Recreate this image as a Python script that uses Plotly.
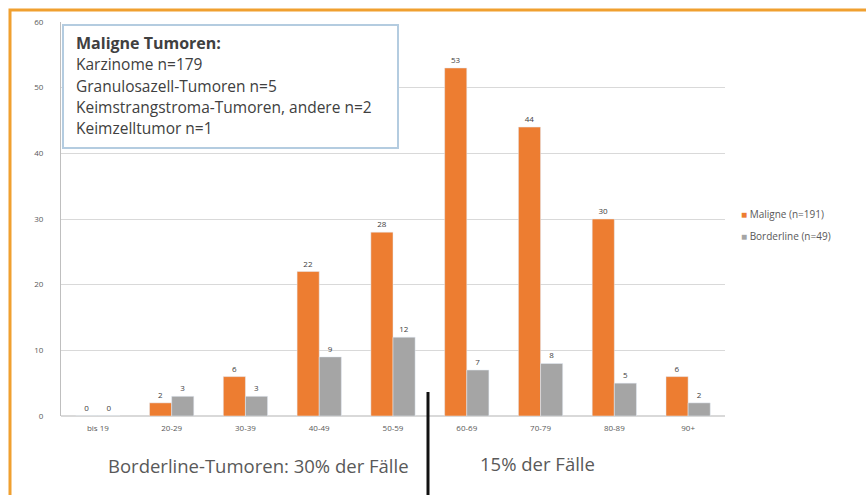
import plotly.graph_objects as go

categories = ["bis 19", "20-29", "30-39", "40-49", "50-59", "60-69", "70-79", "80-89", "90+"]
maligne = [0, 2, 6, 22, 28, 53, 44, 30, 6]
borderline = [0, 3, 3, 9, 12, 7, 8, 5, 2]
series_names = ["Maligne (n=191)", "Borderline (n=49)"]
box_title = "Maligne Tumoren:"
box_lines = ["Karzinome n=179", "Granulosazell-Tumoren n=5",
             "Keimstrangstroma-Tumoren, andere n=2", "Keimzelltumor n=1"]
bottom_left = "Borderline-Tumoren: 30% der Fälle"
bottom_right = "15% der Fälle"
y_ticks = [0, 10, 20, 30, 40, 50, 60]

W, H = 866, 495
L, R, T, B = 61, 141, 22, 79
PW, PH = W - L - R, H - T - B

def px(x):
    return (x - L) / PW

def py(y):
    return (H - B - y) / PH

FONT = "Open Sans"
ORANGE = "#ED7D31"
GRAY = "#A5A5A5"
COLORS = [ORANGE, GRAY]

fig = go.Figure()
for name, vals, col in zip(series_names, [maligne, borderline], COLORS):
    fig.add_trace(go.Bar(x=categories, y=vals, name=name, marker_color=col,
                         text=[str(v) for v in vals], textposition="outside",
                         textfont=dict(size=8, color="#404040"), cliponaxis=False,
                         showlegend=False))

fig.update_layout(
    width=W, height=H, margin=dict(l=L, r=R, t=T, b=B, autoexpand=False),
    paper_bgcolor="white", plot_bgcolor="white",
    font=dict(family=FONT, color="#595959"),
    barmode="group", bargap=0.4, bargroupgap=0,
    xaxis=dict(showgrid=False, showline=False, ticks="", tickfont=dict(size=8, color="#595959"),
               ticklabelstandoff=6),
    yaxis=dict(range=[0, 60], tickvals=y_ticks, showgrid=True, gridcolor="#D9D9D9",
               gridwidth=1, zeroline=True, zerolinecolor="#D9D9D9", showline=True,
               linecolor="#BFBFBF", linewidth=1, ticks="",
               tickfont=dict(size=8, color="#595959"), ticklabelstandoff=15),
)

shapes = []
# text box
shapes.append(dict(type="rect", xref="paper", yref="paper", x0=px(63), x1=px(398), y0=py(148), y1=py(25),
                   line=dict(color="#B4CCE0", width=2), fillcolor="white", layer="above"))
# orange frame
shapes.append(dict(type="path", xref="paper", yref="paper",
                   path=f"M {px(10)},{py(497)} L {px(10)},{py(10)} L {px(868)},{py(10)}",
                   line=dict(color="#F0A030", width=3)))
# black divider
shapes.append(dict(type="line", xref="paper", yref="paper", x0=px(428), x1=px(428), y0=py(392), y1=py(497),
                   line=dict(color="#111111", width=3)))
fig.update_layout(shapes=shapes)

anns = []
anns.append(dict(xref="paper", yref="paper", x=px(74), y=py(43), text="<b>" + box_title + "</b>",
                 showarrow=False, xanchor="left", yanchor="middle",
                 font=dict(size=16, color="#404040", family=FONT)))
ys = [64, 86, 107, 128]
for t, yy in zip(box_lines, ys):
    anns.append(dict(xref="paper", yref="paper", x=px(74), y=py(yy), text=t, showarrow=False,
                     xanchor="left", yanchor="middle", font=dict(size=15.5, color="#404040", family=FONT)))
anns.append(dict(xref="paper", yref="paper", x=px(258), y=py(465), text=bottom_left, showarrow=False,
                 xanchor="center", yanchor="middle", font=dict(size=18.5, color="#595959", family=FONT)))
anns.append(dict(xref="paper", yref="paper", x=px(537), y=py(464), text=bottom_right, showarrow=False,
                 xanchor="center", yanchor="middle", font=dict(size=18.5, color="#595959", family=FONT)))
# legend
for name, col, yy in zip(series_names, COLORS, [214, 236]):
    anns.append(dict(xref="paper", yref="paper", x=px(739), y=py(yy),
                     text=f"<span style='color:{col}'>■</span> {name}", showarrow=False,
                     xanchor="left", yanchor="middle", font=dict(size=10, color="#595959", family=FONT)))
fig.update_layout(annotations=anns)

fig.write_html("out.html")
